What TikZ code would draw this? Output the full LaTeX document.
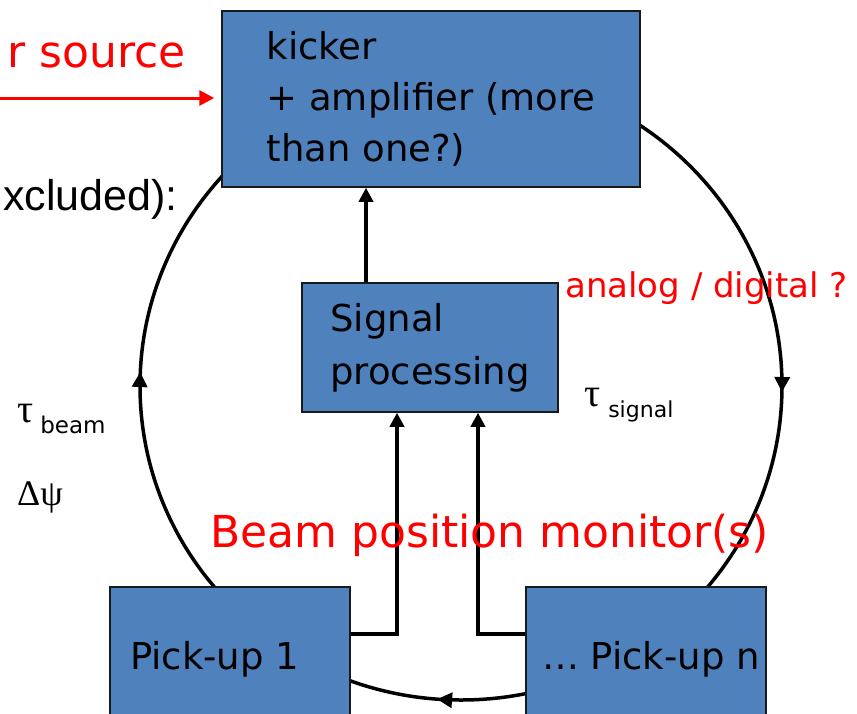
\documentclass[tikz,border=0pt]{standalone}
\usepackage{fontspec}
\setmainfont{DejaVu Sans}
\newfontfamily\arialf{Liberation Sans}
\newfontfamily\timesf{Liberation Serif}
\usetikzlibrary{arrows.meta,decorations.markings}
\definecolor{boxblue}{RGB}{79,129,189}
\definecolor{boxline}{RGB}{25,25,25}
\tikzset{
  block/.style={draw=boxline, line width=1.5pt, fill=boxblue, inner sep=0pt, align=left,
    font=\fontsize{37}{51}\selectfont},
  link/.style={line width=4pt, -{Triangle[length=14pt,width=14pt]}},
  redtxt/.style={text=red, inner sep=0pt},
  plaintxt/.style={inner sep=0pt},
  ringtip/.style={decoration={markings,
      mark=at position 0.253 with {\arrow{Triangle[length=15pt,width=15pt]}},
      mark=at position 0.512 with {\arrow{Triangle[length=15pt,width=15pt]}},
      mark=at position 0.757 with {\arrow{Triangle[length=15pt,width=15pt]}}},
    postaction={decorate}},
}
\begin{document}
\begin{tikzpicture}[x=1pt,y=-1pt]
\useasboundingbox (0,0) rectangle (857,713);
\clip (0,0) rectangle (857,713);

% beam ring
\draw[line width=3.5pt, ringtip] (461,72) arc[start angle=90, end angle=-270, x radius=321pt, y radius=314pt];

% blocks
\node[block, minimum width=418pt, minimum height=176pt] (kicker) at (431,99)
  {kicker\\+ amplifier (more\\than one?)};
\node[block, minimum width=256pt, minimum height=129pt, font=\fontsize{37}{53}\selectfont] (sp) at (430,347.5)
  {Signal\\processing};
\node[block, minimum width=240pt, minimum height=144pt] (p1) at (230,659)
  {\makebox[200pt][l]{Pick-up 1}};
\node[block, minimum width=240pt, minimum height=144pt] (pn) at (646,659)
  {\makebox[208pt][l]{… Pick-up n}};

% connectors
\coordinate (ka) at (366,0);
\coordinate (v1) at (397,634);
\coordinate (v2) at (478,634);
\draw[link] (sp.north -| ka) -- (kicker.south -| ka);
\draw[link] (p1.east |- v1) -| (sp.south -| v1);
\draw[link] (pn.west |- v2) -| (sp.south -| v2);

% external source
\coordinate (src) at (0,98);
\draw[red, line width=3pt, -{Triangle[length=15pt,width=15pt]}, shorten >=7pt] (src) -- (kicker.west |- src);

% texts
\node[redtxt, font=\fontsize{44}{44}\selectfont, anchor=base east] (srcl) at (186,67) {r source};
\node[plaintxt, font=\arialf\fontsize{43}{43}\selectfont, anchor=base east] (excl) at (178,210) {xcluded):};
\node[plaintxt, anchor=base west] (tbeam) at (17,422)
  {{\timesf\fontsize{40}{40}\selectfont τ}\hspace{7pt}\raisebox{-11pt}{\fontsize{23}{23}\selectfont beam}};
\node[plaintxt, anchor=base west, font=\timesf\fontsize{36}{36}\selectfont] (dpsi) at (17,505) {Δψ};
\node[plaintxt, anchor=base west] (tsig) at (584,406)
  {{\timesf\fontsize{40}{40}\selectfont τ}\hspace{8pt}\raisebox{-11pt}{\fontsize{22}{22}\selectfont signal}};
\node[redtxt, font=\fontsize{34}{34}\selectfont, anchor=base west] (ad) at (565,297) {analog / digital ?};
\node[redtxt, font=\fontsize{44}{44}\selectfont, anchor=base west] (bpm) at (210,547) {Beam position monitor(s)};
\end{tikzpicture}
\end{document}
